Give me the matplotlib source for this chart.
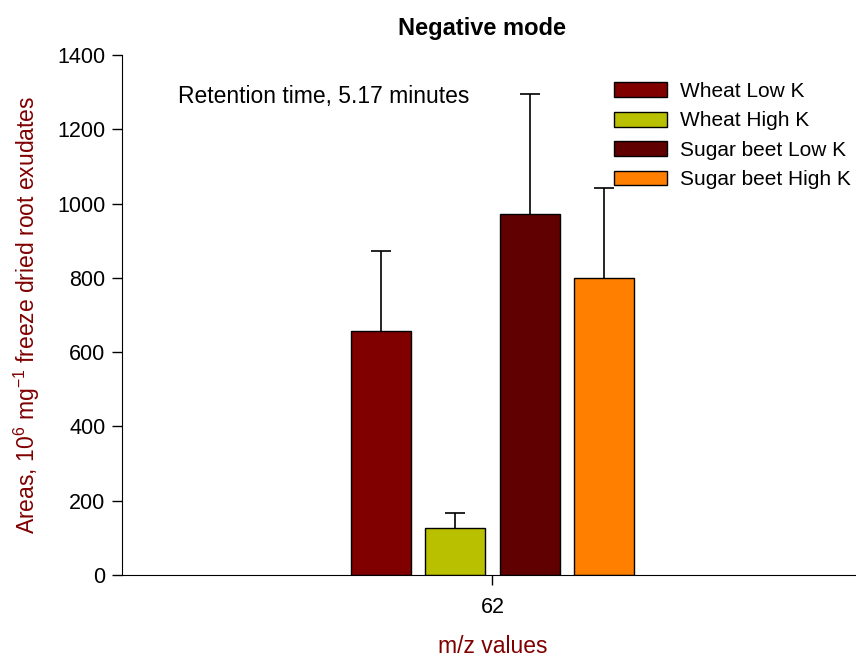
import matplotlib
matplotlib.use('Agg')
import matplotlib.pyplot as plt
import numpy as np

plt.rcParams['font.family'] = ['Liberation Sans', 'DejaVu Sans']
plt.rcParams['mathtext.default'] = 'regular'

groups = ['Wheat Low K', 'Wheat High K', 'Sugar beet Low K', 'Sugar beet High K']
areas = [658, 126, 973, 799]
errors = [215, 42, 323, 244]
colors = ['#800000', '#B9C000', '#600000', '#FF8000']
mz_labels = ['62']

fig = plt.figure(figsize=(8.56, 6.58), dpi=100)
ax = fig.add_axes([122/856, 1-575/658, (863-122)/856, 520/658])

pos = np.arange(len(groups)) - (len(groups)-1)/2
for p, a, e, c, g in zip(pos, areas, errors, colors, groups):
    ax.bar(p, a, width=0.81, color=c, edgecolor='black', linewidth=1.0, label=g, zorder=2)
    # upper error bar only
    eb = ax.errorbar(p, a, yerr=[[0], [e]], fmt='none', ecolor='black',
                     elinewidth=1.2, capsize=7, capthick=1.2, zorder=1)
    eb[1][0].set_visible(False)

ax.set_xlim(-5, 5)
ax.set_ylim(0, 1400)
ax.set_yticks(np.arange(0, 1401, 200))
ax.set_xticks([0])
ax.set_xticklabels(mz_labels)
ax.tick_params(direction='out', length=7, width=1, labelsize=15.5)
ax.tick_params(axis='x', pad=9)
ax.tick_params(axis='y', pad=5)
ax.spines['top'].set_visible(False)
ax.spines['right'].set_visible(False)

ax.set_ylabel(r'Areas, 10$^{6}$ mg$^{-1}$ freeze dried root exudates', color='#800000', fontsize=16.5)
ax.yaxis.set_label_coords((42-122)/741, 0.5)
ax.set_xlabel('m/z values', color='#800000', fontsize=16.5, labelpad=12)
fig.text(482/856, 1-28/658, 'Negative mode', ha='center', va='center', fontsize=17, fontweight='bold')
ax.text(178/856, 1-96/658, 'Retention time, 5.17 minutes', transform=fig.transFigure,
        ha='left', va='center', fontsize=16.5)

ax.legend(loc='upper left', bbox_to_anchor=(614/856, 1-82/658), bbox_transform=fig.transFigure,
          frameon=False, fontsize=15, handlelength=2.55, handleheight=0.72, labelspacing=0.5,
          handletextpad=0.6, borderpad=0, borderaxespad=0)

fig.savefig('out.png', dpi=100)
